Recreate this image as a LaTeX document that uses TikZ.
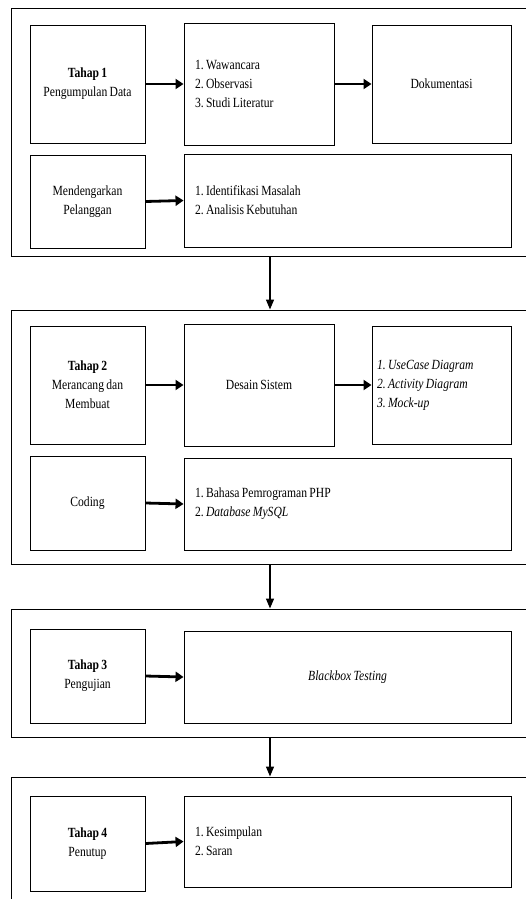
\documentclass[tikz,border=0pt]{standalone}
\usepackage{fontspec}
\setmainfont{Liberation Serif}[FakeStretch=0.83,WordSpace=0.8]
\usetikzlibrary{arrows.meta}
\frenchspacing

\begin{document}
\begin{tikzpicture}[x=1pt,y=-1pt,every node/.style={font=\fontsize{14}{19}\selectfont},frame/.style={draw,line width=1pt,inner sep=0pt},box/.style={draw,line width=0.9pt,align=center,inner sep=0pt},listbox/.style={draw,line width=0.9pt,align=flush left,inner sep=0pt},arrow/.style={-{Triangle[length=8pt,width=10pt]},line width=2.8pt},downarrow/.style={-{Triangle[length=10pt,width=8pt]},line width=1.4pt}]
\useasboundingbox (0,0) rectangle (526,899);
\clip (0,0) rectangle (526,899);
\fill[white] (0,0) rectangle (526,899);

% frames
\node[frame,minimum width=518pt,minimum height=247pt] (f1) at (270,132.5) {};
\node[frame,minimum width=518pt,minimum height=254pt] (f2) at (270,437) {};
\node[frame,minimum width=518pt,minimum height=128pt] (f3) at (270,673) {};
\node[frame,minimum width=518pt,minimum height=128pt] (f4) at (270,841) {};

% tahap 1
\node[box,minimum width=115pt,minimum height=118pt] (t1) at (87.5,84) {\textbf{Tahap 1}\\Pengumpulan Data};
\node[listbox,minimum width=150pt,minimum height=122pt,text width=128pt] (kumpul) at (259,84) {1. Wawancara\\2. Observasi\\3. Studi Literatur};
\node[box,minimum width=139pt,minimum height=118pt] (doku) at (441.5,84) {Dokumentasi};
\node[box,minimum width=115pt,minimum height=93pt] (dengar) at (87.5,201.5) {Mendengarkan\\Pelanggan};
\node[listbox,minimum width=327pt,minimum height=93pt,text width=305pt] (analisis) at (347.5,200.5) {1. Identifikasi Masalah\\2. Analisis Kebutuhan};

% tahap 2
\node[box,minimum width=115pt,minimum height=118pt] (t2) at (87.5,385) {\textbf{Tahap 2}\\Merancang dan\\Membuat};
\node[box,minimum width=150pt,minimum height=122pt] (desain) at (259,385) {Desain Sistem};
\node[listbox,minimum width=139pt,minimum height=118pt,text width=129pt] (uml) at (441.5,385) {\textit{1. UseCase Diagram}\\\textit{2. Activity Diagram}\\\textit{3. Mock-up}};
\node[box,minimum width=115pt,minimum height=94pt] (coding) at (87.5,503) {Coding};
\node[listbox,minimum width=327pt,minimum height=92pt,text width=305pt] (php) at (347.5,504) {1. Bahasa Pemrograman PHP\\2. \textit{Database MySQL}};

% tahap 3
\node[box,minimum width=115pt,minimum height=94pt] (t3) at (87.5,676) {\textbf{Tahap 3}\\Pengujian};
\node[box,minimum width=327pt,minimum height=92pt] (testing) at (347.5,677) {\textit{Blackbox Testing}};

% tahap 4
\node[box,minimum width=115pt,minimum height=95pt] (t4) at (87.5,843.5) {\textbf{Tahap 4}\\Penutup};
\node[listbox,minimum width=327pt,minimum height=91pt,text width=305pt] (tutup) at (347.5,841.5) {1. Kesimpulan\\2. Saran};

\draw[arrow] (t1.east) -- (kumpul.west);
\draw[arrow] (kumpul.east) -- (doku.west);
\draw[arrow] (dengar.east) -- (analisis.west);
\draw[arrow] (t2.east) -- (desain.west);
\draw[arrow] (desain.east) -- (uml.west);
\draw[arrow] (coding.east) -- (php.west);
\draw[arrow] (t3.east) -- (testing.west);
\draw[arrow] (t4.east) -- (tutup.west);

\draw[downarrow] (f1.south) -- (f2.north);
\draw[downarrow] (f2.south) -- (f3.north);
\draw[downarrow] (f3.south) -- (f4.north);

\end{tikzpicture}
\end{document}
